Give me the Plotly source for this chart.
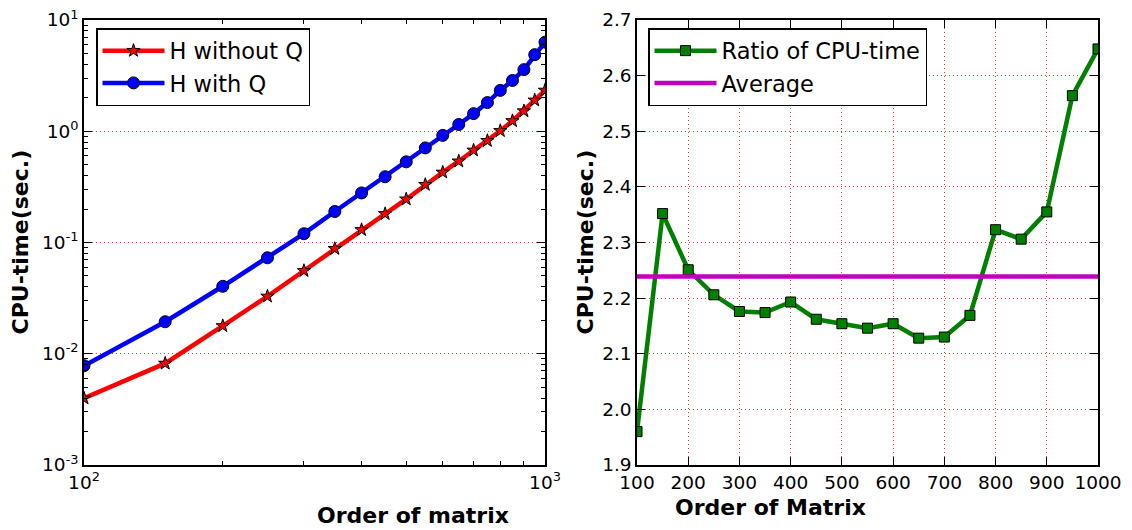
import plotly.graph_objects as go

order = [100, 150, 200, 250, 300, 350, 400, 450, 500, 550, 600, 650, 700, 750, 800, 850, 900, 950, 1000]
h_without_q = [0.00398, 0.00819, 0.0178, 0.0328, 0.0557, 0.0879, 0.130, 0.181, 0.245, 0.331, 0.427,
               0.538, 0.674, 0.822, 1.01, 1.24, 1.52, 1.90, 2.33]
h_with_q = [0.00781, 0.0194, 0.0404, 0.0729, 0.120, 0.190, 0.279, 0.390, 0.531, 0.708, 0.918,
            1.15, 1.44, 1.81, 2.33, 2.86, 3.58, 4.88, 6.32]
ratio = [1.960, 2.352, 2.251, 2.206, 2.176, 2.174, 2.193, 2.162, 2.154, 2.146, 2.154,
         2.128, 2.130, 2.169, 2.323, 2.306, 2.355, 2.564, 2.648]
average = [2.239] * len(order)

left_yticks = [1e-3, 1e-2, 1e-1, 1e0, 1e1]
left_yticktext = ["10<sup>-3</sup>", "10<sup>-2</sup>", "10<sup>-1</sup>", "10<sup>0</sup>", "10<sup>1</sup>"]
left_xticks = [100, 1000]
left_xticktext = ["10<sup>2</sup>", "10<sup>3</sup>"]
right_xticks = [100, 200, 300, 400, 500, 600, 700, 800, 900, 1000]
right_yticks = [1.9, 2.0, 2.1, 2.2, 2.3, 2.4, 2.5, 2.6, 2.7]

W, H = 1132, 530
TOP, BOT = 20, 465
PH = BOT - TOP
FONT = "DejaVu Sans"

fig = go.Figure()
fig.add_trace(go.Scatter(x=order, y=h_without_q, name="H without Q", mode="lines+markers",
                         line=dict(color="#ff0000", width=4.5), legendgroup="a",
                         marker=dict(symbol="star", size=10, color="#ff0000", line=dict(color="black", width=1)),
                         xaxis="x", yaxis="y", legend="legend"))
fig.add_trace(go.Scatter(x=order, y=h_with_q, name="H with Q", mode="lines+markers",
                         line=dict(color="#0000ff", width=4.5), legendgroup="b",
                         marker=dict(symbol="circle", size=12, color="#0000ff", line=dict(color="black", width=1)),
                         xaxis="x", yaxis="y", legend="legend"))
fig.add_trace(go.Scatter(x=order, y=ratio, name="Ratio of CPU-time", mode="lines+markers",
                         line=dict(color="#008000", width=4.5), legendgroup="c",
                         marker=dict(symbol="square", size=10, color="#008000", line=dict(color="black", width=1)),
                         xaxis="x2", yaxis="y2", legend="legend2"))
fig.add_trace(go.Scatter(x=order, y=average, name="Average", mode="lines",
                         line=dict(color="#bf00bf", width=4.5), legendgroup="d",
                         xaxis="x2", yaxis="y2", legend="legend2"))

def minor_log(lo, hi):
    vals = []
    for e in range(lo, hi):
        for m in range(2, 10):
            vals.append(m * 10 ** e)
    return vals

tickfont = dict(family=FONT, size=18.5, color="black")
common = dict(showline=True, linecolor="black", linewidth=1.5, mirror="ticks", ticks="inside",
              ticklen=8, tickwidth=1, tickcolor="black", tickfont=tickfont, zeroline=False,
              automargin=False)
grid = dict(showgrid=True, gridcolor="#ff3333", griddash="1px,3px", gridwidth=1)

lx0, lx1 = 84 / W, 545 / W
rx0, rx1 = 637 / W, 1098 / W

legfont = dict(family=FONT, size=22.5, color="black")
fig.update_layout(
    width=W, height=H, plot_bgcolor="white", paper_bgcolor="white",
    margin=dict(l=0, r=0, t=TOP, b=H - BOT, autoexpand=False),
    xaxis=dict(type="log", range=[2, 3], domain=[lx0, lx1], anchor="y",
               tickvals=left_xticks, ticktext=left_xticktext, showgrid=False,
               minor=dict(tickvals=minor_log(2, 3), ticks="inside", ticklen=4,
                          tickcolor="black", showgrid=False),
               **common),
    yaxis=dict(type="log", range=[-3, 1], domain=[0, 1], anchor="x",
               tickvals=left_yticks, ticktext=left_yticktext,
               minor=dict(tickvals=minor_log(-3, 1), ticks="inside", ticklen=4,
                          tickcolor="black", showgrid=False),
               **grid, **common),
    xaxis2=dict(range=[100, 1000], domain=[rx0, rx1], anchor="y2",
                tickvals=right_xticks, **grid, **common),
    yaxis2=dict(range=[1.9, 2.7], domain=[0, 1], anchor="x2",
                tickvals=right_yticks, tickformat=".1f", **grid, **common),
    legend=dict(x=96 / W, y=1 - (28 - TOP) / PH, xanchor="left", yanchor="top",
                bgcolor="white", bordercolor="black", borderwidth=1.5,
                font=legfont, itemwidth=62, tracegroupgap=0),
    legend2=dict(x=648 / W, y=1 - (28 - TOP) / PH, xanchor="left", yanchor="top",
                 bgcolor="white", bordercolor="black", borderwidth=1.5,
                 font=legfont, itemwidth=62, tracegroupgap=0),
    showlegend=True,
)

titlefont = dict(family=FONT, size=22, color="black")
fig.add_annotation(text="<b>Order of matrix</b>", x=(lx0 + lx1) / 2, y=-(515 - BOT) / PH,
                   xref="paper", yref="paper", showarrow=False, font=titlefont, yanchor="middle")
fig.add_annotation(text="<b>Order of Matrix</b>", x=(rx0 + rx1) / 2, y=-(507 - BOT) / PH,
                   xref="paper", yref="paper", showarrow=False, font=titlefont, yanchor="middle")
fig.add_annotation(text="<b>CPU-time(sec.)</b>", x=20 / W, y=0.5, textangle=-90,
                   xref="paper", yref="paper", showarrow=False, font=titlefont, xanchor="center")
fig.add_annotation(text="<b>CPU-time(sec.)</b>", x=585 / W, y=0.5, textangle=-90,
                   xref="paper", yref="paper", showarrow=False, font=titlefont, xanchor="center")

fig.write_html("out.html")
